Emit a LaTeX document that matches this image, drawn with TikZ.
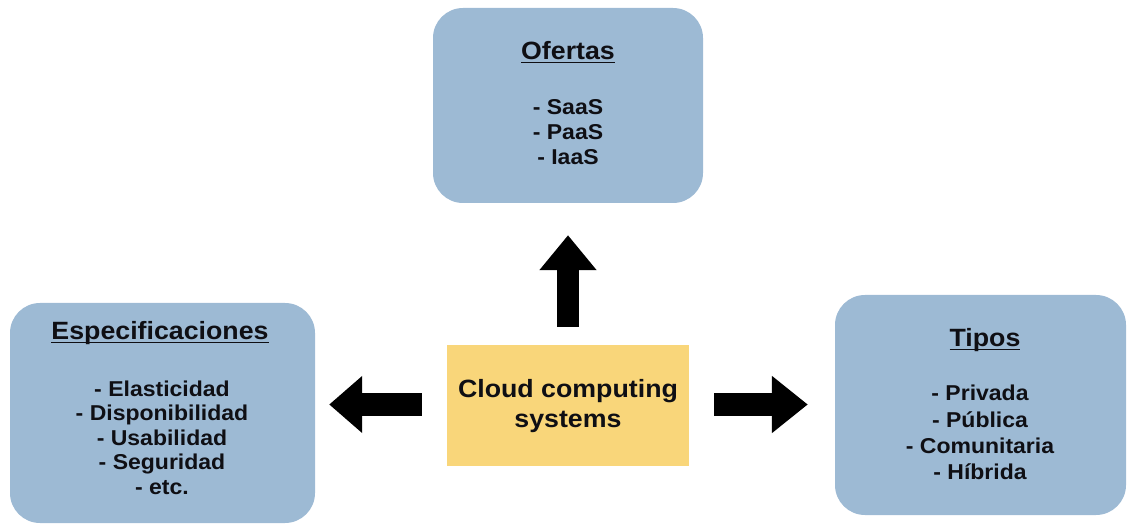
\documentclass[tikz,border=0pt]{standalone}
\usepackage{fontspec}
\setmainfont{Liberation Sans}[FakeStretch=1.07]
\usetikzlibrary{arrows.meta}
\definecolor{boxblue}{RGB}{157,186,212}
\definecolor{boxyellow}{RGB}{249,214,122}
\definecolor{inkcol}{RGB}{15,15,20}
\newcommand\titleul[1]{\setbox0\hbox{#1}\rlap{\rule[-3.5pt]{\wd0}{1.6pt}}\box0}
\begin{document}
\begin{tikzpicture}[x=1pt,y=-1pt,
  bluebox/.style={rectangle, rounded corners=30pt, fill=boxblue, draw=none, inner sep=0pt},
  yellowbox/.style={rectangle, fill=boxyellow, draw=none, inner sep=0pt},
  titletxt/.style={anchor=base, inner sep=0pt, text=inkcol, font=\fontsize{25}{29}\selectfont\bfseries},
  itemtxt/.style={anchor=base, inner sep=0pt, text=inkcol, font=\fontsize{21.5}{25}\selectfont\bfseries},
  centertxt/.style={anchor=base, inner sep=0pt, text=inkcol, font=\fontsize{25}{29}\selectfont\bfseries},
  blockarrow/.style={line width=22pt, draw=black}
]
\useasboundingbox (0,0) rectangle (1127,526);

% boxes
\node[bluebox, minimum width=270pt, minimum height=195pt] (ofb) at (568,105.5) {};
\node[bluebox, minimum width=305pt, minimum height=220pt] (esb) at (162.5,413) {};
\node[bluebox, minimum width=291pt, minimum height=220pt] (tib) at (980.5,405) {};
\node[yellowbox, minimum width=242pt, minimum height=121pt] (cen) at (568,405.5) {};

% Ofertas
\node[titletxt] (oft) at (568,60) {\titleul{Ofertas}};
\node[itemtxt] (of1) at (568,115) {- SaaS};
\node[itemtxt] (of2) at (568,140) {- PaaS};
\node[itemtxt] (of3) at (568,165) {- IaaS};

% Especificaciones
\node[titletxt] (est) at (160,340) {\titleul{Especificaciones}};
\node[itemtxt] (es1) at (162,396) {- Elasticidad};
\node[itemtxt] (es2) at (162,420.5) {- Disponibilidad};
\node[itemtxt] (es3) at (162,445) {- Usabilidad};
\node[itemtxt] (es4) at (162,469.5) {- Seguridad};
\node[itemtxt] (es5) at (162,494) {- etc.};

% Tipos
\node[titletxt] (tit) at (985,347) {\titleul{Tipos}};
\node[itemtxt] (ti1) at (980,401) {- Privada};
\node[itemtxt] (ti2) at (980,427) {- Pública};
\node[itemtxt] (ti3) at (980,453) {- Comunitaria};
\node[itemtxt] (ti4) at (980,479) {- Híbrida};

% Center
\node[centertxt] (c1) at (568,398) {Cloud computing};
\node[centertxt] (c2) at (568,427) {systems};

% arrows
\draw[blockarrow, -{Triangle[length=35pt,width=55pt]}, shorten <=18pt, shorten >=32pt] (cen.north) -- (ofb.south);
\draw[blockarrow, -{Triangle[length=33pt,width=55pt]}, shorten <=25pt, shorten >=14pt] ([yshift=1pt]cen.west) -- ([yshift=1pt]cen.west -| esb.east);
\draw[blockarrow, -{Triangle[length=36pt,width=55pt]}, shorten <=25pt, shorten >=27pt] ([yshift=1pt]cen.east) -- ([yshift=1pt]cen.east -| tib.west);
\end{tikzpicture}
\end{document}
